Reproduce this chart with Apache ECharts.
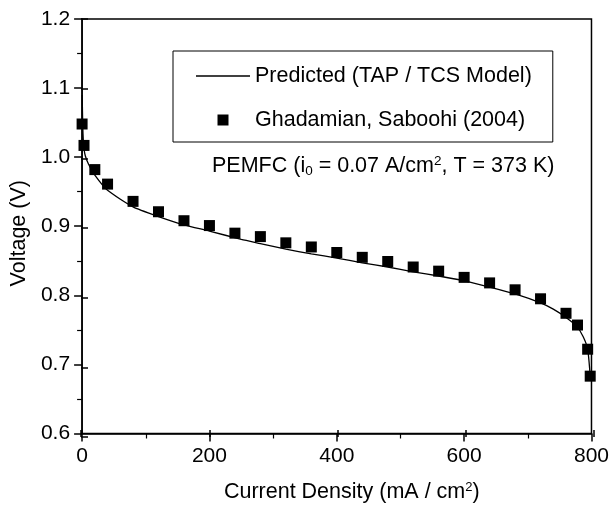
<!DOCTYPE html>
<html>
<head>
<meta charset="utf-8">
<script src="https://cdn.jsdelivr.net/npm/echarts@6/dist/echarts.min.js"></script>
<style>html,body{margin:0;padding:0;background:#fff}#c{width:612px;height:508px}</style>
</head>
<body>
<div id="c"></div>
<script>
// Model curve (Predicted, TAP / TCS Model)
const modelX = [0.2, 1, 2, 3, 5, 10, 20, 40, 80, 120, 160, 200, 250, 280, 320, 360, 400, 440, 480, 520, 560, 600, 640, 680, 720, 740, 760, 777, 787, 794, 798];
const modelY = [1.09, 1.045, 1.022, 1.012, 1.002, 0.99, 0.974, 0.952, 0.928, 0.914, 0.902, 0.893, 0.881, 0.875, 0.867, 0.860, 0.854, 0.847, 0.841, 0.834, 0.828, 0.821, 0.812, 0.802, 0.789, 0.780, 0.768, 0.755, 0.740, 0.722, 0.683];
// Experimental data (Ghadamian, Saboohi 2004)
const expX = [0, 3, 20, 40, 80, 120, 160, 200, 240, 280, 320, 360, 400, 440, 480, 520, 560, 600, 640, 680, 720, 760, 778, 794, 798];
const expY = [1.048, 1.017, 0.982, 0.961, 0.936, 0.921, 0.908, 0.901, 0.890, 0.885, 0.876, 0.870, 0.862, 0.855, 0.849, 0.841, 0.835, 0.826, 0.818, 0.808, 0.795, 0.774, 0.757, 0.722, 0.683];
const xTicks = [0, 200, 400, 600, 800];
const yTicks = [0.6, 0.7, 0.8, 0.9, 1.0, 1.1, 1.2];
const seriesNames = ['Predicted (TAP / TCS Model)', 'Ghadamian, Saboohi (2004)'];

const FONT = 'Liberation Sans, Arial, Helvetica, sans-serif';
const chart = echarts.init(document.getElementById('c'), null, {renderer: 'canvas'});
const gridPos = {left: 81, right: 18, top: 19, bottom: 71};
const xBase = {min: xTicks[0], max: xTicks[xTicks.length - 1], interval: 200, type: 'value'};
const yBase = {min: yTicks[0], max: yTicks[yTicks.length - 1], interval: 0.1, type: 'value'};

chart.setOption({
  animation: false,
  backgroundColor: '#fff',
  grid: [
    Object.assign({show: true, borderColor: '#000', borderWidth: 1.5, containLabel: false}, gridPos),
    Object.assign({show: false}, gridPos)
  ],
  legend: {
    left: 173, top: 51, orient: 'vertical',
    borderColor: '#000', borderWidth: 1, borderRadius: 0,
    padding: [13, 21, 10, 23],
    itemWidth: 54, itemHeight: 11, itemGap: 20,
    textStyle: {fontFamily: FONT, fontSize: 21.5, color: '#000', lineHeight: 24},
    data: [
      {name: seriesNames[0], icon: 'path://M0 0H54V1.3H0Z'},
      {name: seriesNames[1], icon: 'path://M0 0H10V10H0Z'}
    ]
  },
  xAxis: [
    Object.assign({
      gridIndex: 0, position: 'bottom',
      name: 'Current Density (mA / cm{sup|2})',
      nameLocation: 'middle', nameGap: 47,
      nameTextStyle: {fontFamily: FONT, fontSize: 21.5, color: '#000', padding: [0, 0, 0, 30],
        rich: {sup: {fontSize: 13, padding: [0, 0, 10, 0], fontFamily: FONT, color: '#000'}}},
      axisLine: {show: true, onZero: false, lineStyle: {color: '#000', width: 1.5}},
      axisTick: {show: true, inside: false, length: 8, lineStyle: {color: '#000', width: 1.5}},
      minorTick: {show: true, splitNumber: 2, length: 5, lineStyle: {color: '#000', width: 1.2}},
      axisLabel: {fontFamily: FONT, fontSize: 21, color: '#000', margin: 12},
      splitLine: {show: false}
    }, xBase),
    Object.assign({
      gridIndex: 1, position: 'bottom',
      axisLine: {show: false},
      axisTick: {show: true, inside: true, length: 7, lineStyle: {color: '#000', width: 1.5}},
      axisLabel: {show: false},
      splitLine: {show: false}
    }, xBase)
  ],
  yAxis: [
    Object.assign({
      gridIndex: 0, position: 'left',
      name: 'Voltage (V)', nameLocation: 'middle', nameGap: 52, nameRotate: 90,
      nameTextStyle: {fontFamily: FONT, fontSize: 21.5, color: '#000', padding: [0, 14, 0, 0]},
      axisLine: {show: true, onZero: false, lineStyle: {color: '#000', width: 1.5}},
      axisTick: {show: true, inside: false, length: 8, lineStyle: {color: '#000', width: 1.5}},
      minorTick: {show: true, splitNumber: 2, length: 5, lineStyle: {color: '#000', width: 1.2}},
      axisLabel: {fontFamily: FONT, fontSize: 21, color: '#000', margin: 12,
        formatter: v => v.toFixed(1)},
      splitLine: {show: false}
    }, yBase),
    Object.assign({
      gridIndex: 1, position: 'left',
      axisLine: {show: false},
      axisTick: {show: true, inside: true, length: 7, lineStyle: {color: '#000', width: 1.5}},
      axisLabel: {show: false},
      splitLine: {show: false}
    }, yBase)
  ],
  graphic: [{
    type: 'text', left: 212, top: 154, z: 10,
    style: {
      text: '{a|PEMFC (i}{sub|0}{a| = 0.07 A/cm}{sup|2}{a|, T = 373 K)}',
      rich: {
        a: {fontFamily: FONT, fontSize: 21.5, fill: '#000', color: '#000'},
        sub: {fontFamily: FONT, fontSize: 13.5, fill: '#000', color: '#000', padding: [10, 0, 0, 0]},
        sup: {fontFamily: FONT, fontSize: 13.5, fill: '#000', color: '#000', padding: [0, 0, 10, 0]}
      }
    }
  }],
  series: [
    {
      name: seriesNames[0], type: 'line', xAxisIndex: 0, yAxisIndex: 0,
      data: modelX.map((x, i) => [x, modelY[i]]),
      symbol: 'none', smooth: 0.2,
      lineStyle: {color: '#000', width: 1.3},
      itemStyle: {color: '#000'}, z: 3
    },
    {
      name: seriesNames[1], type: 'scatter', xAxisIndex: 0, yAxisIndex: 0,
      data: expX.map((x, i) => [x, expY[i]]),
      symbol: 'rect', symbolSize: 11,
      itemStyle: {color: '#000', opacity: 1}, z: 4, clip: false
    }
  ]
});
</script>
</body>
</html>
